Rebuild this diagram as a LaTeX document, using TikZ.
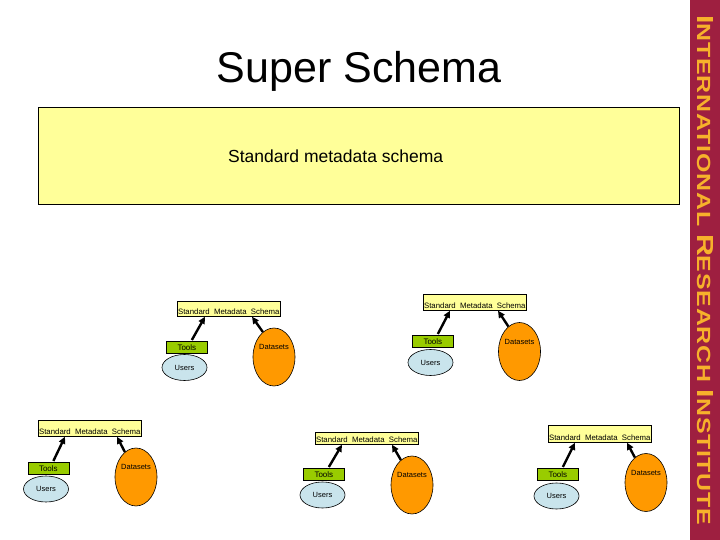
\documentclass[tikz,border=0pt]{standalone}
\usepackage{fontspec}
\setmainfont{Liberation Sans}
\newfontfamily\irifont[LetterSpace=3]{Liberation Sans}
\usetikzlibrary{shapes.geometric,arrows.meta,calc}
\definecolor{bandred}{HTML}{9E1F40}
\definecolor{bandgold}{HTML}{F7B12B}
\definecolor{paleyellow}{HTML}{FFFF99}
\definecolor{toolgreen}{HTML}{99CC00}
\definecolor{userblue}{HTML}{C9E4EC}
\definecolor{dataorange}{HTML}{FF9900}
\tikzset{
  schemabox/.style={draw=black, line width=0.7pt, fill=paleyellow, inner sep=0pt, anchor=north west, minimum width=103pt},
  schematext/.style={font=\fontsize{7.8}{9}\selectfont, inner sep=0pt, anchor=base},
  toolsbox/.style={draw=black, line width=0.7pt, fill=toolgreen, inner sep=0pt, anchor=north west, minimum width=41pt, minimum height=12pt, font=\fontsize{8}{9}\selectfont},
  usersell/.style={ellipse, draw=black, line width=0.6pt, fill=userblue, inner sep=0pt, minimum width=45pt, minimum height=26pt, font=\fontsize{7.5}{9}\selectfont},
  dataell/.style={ellipse, draw=black, line width=0.6pt, fill=dataorange, inner sep=0pt, minimum width=42pt, minimum height=58pt},
  datatext/.style={font=\fontsize{7.5}{9}\selectfont, inner sep=0pt},
  arr/.style={-{Triangle[length=7pt,width=6.5pt]}, line width=2.4pt}
}
\newcommand{\smsname}{Standard\ \ Metadata\ \ Schema}
\begin{document}
\begin{tikzpicture}[x=1pt,y=-1pt]
\useasboundingbox (0,0) rectangle (720,540);
\fill[white] (0,0) rectangle (720,540);
% side band
\fill[bandred] (690,0) rectangle (720,540);
\node[rotate=-90, anchor=base west, text=bandgold, inner sep=0pt] (iri) at (697,15)
  {\resizebox{510pt}{16pt}{\irifont\bfseries{\fontsize{10}{10}\selectfont I}\fontsize{8.2}{10}\selectfont NTERNATIONAL {\fontsize{10}{10}\selectfont R}ESEARCH {\fontsize{10}{10}\selectfont I}NSTITUTE}};
% title
\node[font=\fontsize{43}{50}\selectfont, anchor=base, inner sep=0pt] (title) at (359,83) {Super Schema};
% super schema box
\node[draw=black, line width=1.2pt, fill=paleyellow, inner sep=0pt, minimum width=641pt, minimum height=97pt, anchor=north west] (super) at (38,107) {};
\node[font=\fontsize{17.5}{20}\selectfont, anchor=base west, inner sep=0pt] (supertxt) at (228,163) {Standard metadata schema};

% sub 1
\node[schemabox, minimum height=15pt] (s1) at (177,301) {};
\node[schematext] (s1t) at ($(s1.south)+(0,-2)$) {\smsname};
\node[toolsbox] (t1) at (166,341) {Tools};
\node[usersell] (u1) at (184.5,367.5) {Users};
\node[dataell] (d1) at (274,357) {};
\node[datatext] (d1t) at ($(d1.center)+(0,-10)$) {Datasets};
\draw[arr] ($(t1.north)+(5,-1)$) -- ($(s1.south west)+(28,0)$);
\draw[arr] (d1.114) -- ($(s1.south west)+(75,0)$);

% sub 2
\node[schemabox, minimum height=16pt] (s2) at (423,294) {};
\node[schematext] (s2t) at ($(s2.south)+(0,-2)$) {\smsname};
\node[toolsbox] (t2) at (412,335) {Tools};
\node[usersell] (u2) at (430.5,362.5) {Users};
\node[dataell] (d2) at (519.5,351.5) {};
\node[datatext] (d2t) at ($(d2.center)+(0,-10)$) {Datasets};
\draw[arr] ($(t2.north)+(5,-1)$) -- ($(s2.south west)+(27,0)$);
\draw[arr] (d2.114) -- ($(s2.south west)+(75,0)$);

% sub 3
\node[schemabox, minimum height=16pt] (s3) at (38,420) {};
\node[schematext] (s3t) at ($(s3.south)+(0,-2)$) {\smsname};
\node[toolsbox] (t3) at (27.5,462) {Tools};
\node[usersell] (u3) at (46,489) {Users};
\node[dataell] (d3) at (136,477) {};
\node[datatext] (d3t) at ($(d3.center)+(0,-10)$) {Datasets};
\draw[arr] ($(t3.north)+(5,-1)$) -- ($(s3.south west)+(27,0)$);
\draw[arr] (d3.114) -- ($(s3.south west)+(79,0)$);

% sub 4
\node[schemabox, minimum height=12pt] (s4) at (315,432) {};
\node[schematext] (s4t) at ($(s4.south)+(0,-2)$) {\smsname};
\node[toolsbox] (t4) at (303,468) {Tools};
\node[usersell] (u4) at (322.5,495) {Users};
\node[dataell] (d4) at (412,485) {};
\node[datatext] (d4t) at ($(d4.center)+(0,-10)$) {Datasets};
\draw[arr] ($(t4.north)+(5,-1)$) -- ($(s4.south west)+(27,0)$);
\draw[arr] (d4.114) -- ($(s4.south west)+(77,0)$);

% sub 5
\node[schemabox, minimum height=17pt] (s5) at (548,425) {};
\node[schematext] (s5t) at ($(s5.south)+(0,-2)$) {\smsname};
\node[toolsbox] (t5) at (537,468) {Tools};
\node[usersell] (u5) at (556.5,496) {Users};
\node[dataell] (d5) at (646,482.5) {};
\node[datatext] (d5t) at ($(d5.center)+(0,-10)$) {Datasets};
\draw[arr] ($(t5.north)+(5,-1)$) -- ($(s5.south west)+(27,0)$);
\draw[arr] (d5.114) -- ($(s5.south west)+(79,0)$);
\end{tikzpicture}
\end{document}
